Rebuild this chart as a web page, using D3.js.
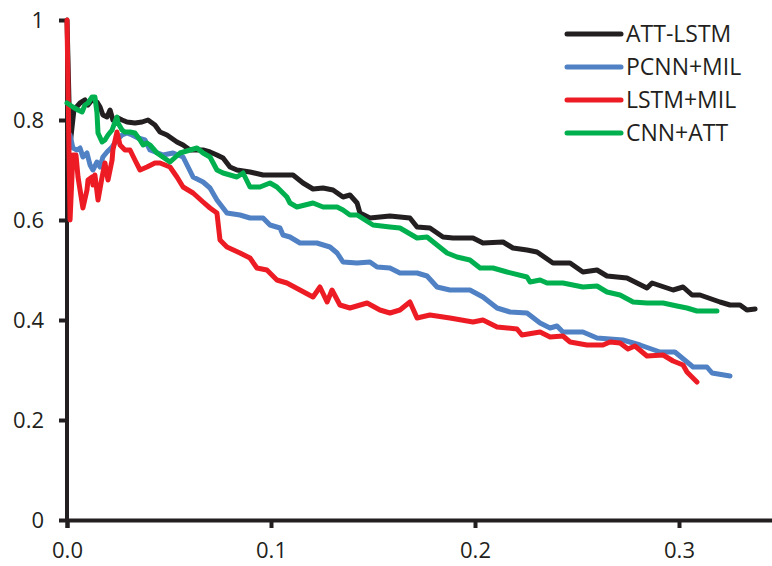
<!DOCTYPE html>
<html>
<head>
<meta charset="utf-8">
<script src="https://cdn.jsdelivr.net/npm/d3@7"></script>
<style>
  body { margin: 0; background: #fff; }
  text { font-family: "Open Sans", sans-serif; fill: #231f20; }
</style>
</head>
<body>
<svg id="svg"></svg>
<script>
const seriesNames = ["ATT-LSTM", "PCNN+MIL", "LSTM+MIL", "CNN+ATT"]
const seriesColors = ["#231f20", "#4f81c4", "#ed1c24", "#00b04f"]

// [recall, precision]
const attLstm = [[0,1.0],[0.0015,0.75],[0.0034,0.82],[0.0064,0.834],[0.0088,0.84],[0.0103,0.83],[0.0123,0.84],[0.0147,0.836],[0.0162,0.826],[0.0176,0.81],[0.0196,0.806],[0.0211,0.82],[0.0225,0.80],[0.025,0.804],[0.027,0.80],[0.0294,0.796],[0.0333,0.794],[0.0368,0.796],[0.0397,0.80],[0.0431,0.79],[0.0456,0.776],[0.049,0.77],[0.0539,0.756],[0.0569,0.75],[0.0603,0.74],[0.0667,0.74],[0.0701,0.736],[0.0735,0.73],[0.0765,0.724],[0.0799,0.706],[0.0833,0.70],[0.0897,0.696],[0.0961,0.69],[0.103,0.69],[0.1108,0.69],[0.1157,0.674],[0.1206,0.662],[0.1255,0.664],[0.1304,0.66],[0.1353,0.646],[0.1387,0.65],[0.1422,0.634],[0.1436,0.614],[0.1485,0.604],[0.1583,0.608],[0.1681,0.604],[0.1716,0.586],[0.1779,0.584],[0.1843,0.566],[0.1892,0.564],[0.199,0.564],[0.2039,0.554],[0.2137,0.556],[0.2186,0.544],[0.2255,0.54],[0.2304,0.536],[0.2382,0.514],[0.2466,0.514],[0.2529,0.496],[0.2598,0.50],[0.2647,0.488],[0.2745,0.484],[0.2843,0.464],[0.2868,0.474],[0.2971,0.46],[0.302,0.466],[0.3064,0.45],[0.3103,0.45],[0.3201,0.436],[0.325,0.43],[0.3299,0.43],[0.3333,0.42],[0.3373,0.422]]

const pcnnMil = [[0.0015,0.77],[0.0029,0.744],[0.0049,0.74],[0.0064,0.744],[0.0078,0.726],[0.0098,0.734],[0.0113,0.71],[0.0127,0.70],[0.0147,0.716],[0.0162,0.706],[0.0176,0.726],[0.0196,0.736],[0.0221,0.746],[0.0245,0.76],[0.027,0.77],[0.0294,0.774],[0.0319,0.77],[0.0348,0.764],[0.0382,0.76],[0.0407,0.74],[0.0471,0.73],[0.052,0.734],[0.0569,0.726],[0.0618,0.686],[0.0667,0.676],[0.0701,0.664],[0.0735,0.64],[0.0784,0.614],[0.0848,0.61],[0.0897,0.604],[0.0961,0.604],[0.0995,0.59],[0.1044,0.584],[0.1059,0.57],[0.1093,0.566],[0.1142,0.554],[0.1225,0.554],[0.1289,0.546],[0.1324,0.534],[0.1353,0.516],[0.1422,0.514],[0.1485,0.516],[0.152,0.506],[0.1583,0.504],[0.1632,0.494],[0.1716,0.494],[0.1765,0.488],[0.1814,0.466],[0.1877,0.46],[0.1975,0.46],[0.2039,0.446],[0.2108,0.424],[0.2172,0.416],[0.2255,0.414],[0.2319,0.394],[0.2368,0.384],[0.2402,0.388],[0.2431,0.376],[0.2529,0.376],[0.2598,0.364],[0.2725,0.36],[0.2809,0.35],[0.2907,0.336],[0.298,0.336],[0.3069,0.306],[0.3137,0.306],[0.3162,0.294],[0.325,0.288]]

const lstmMil = [[0,1.0],[0.0015,0.6],[0.0029,0.73],[0.0044,0.73],[0.0054,0.686],[0.0078,0.624],[0.0098,0.66],[0.0103,0.68],[0.0123,0.686],[0.0127,0.67],[0.0137,0.69],[0.0152,0.64],[0.0172,0.686],[0.0186,0.714],[0.0201,0.68],[0.0221,0.72],[0.0225,0.74],[0.0245,0.776],[0.026,0.75],[0.0284,0.74],[0.0309,0.74],[0.0333,0.72],[0.0358,0.70],[0.0392,0.706],[0.0431,0.714],[0.0456,0.714],[0.0505,0.706],[0.0539,0.686],[0.0569,0.666],[0.0618,0.654],[0.0667,0.636],[0.0701,0.624],[0.0735,0.614],[0.075,0.56],[0.0784,0.546],[0.0848,0.534],[0.0897,0.524],[0.0931,0.504],[0.098,0.50],[0.1029,0.48],[0.1078,0.474],[0.1142,0.46],[0.1206,0.446],[0.124,0.466],[0.1275,0.436],[0.1299,0.46],[0.1338,0.43],[0.1387,0.424],[0.1471,0.434],[0.1534,0.42],[0.1583,0.414],[0.1632,0.42],[0.1681,0.436],[0.1716,0.404],[0.1779,0.41],[0.1877,0.404],[0.199,0.396],[0.2039,0.40],[0.2108,0.386],[0.2206,0.382],[0.223,0.37],[0.2319,0.376],[0.2368,0.366],[0.2431,0.368],[0.2466,0.356],[0.2549,0.35],[0.2627,0.35],[0.2662,0.356],[0.2711,0.354],[0.275,0.342],[0.2784,0.348],[0.2843,0.328],[0.2922,0.33],[0.2971,0.318],[0.302,0.31],[0.3039,0.296],[0.3088,0.276]]

const cnnAtt = [[0,0.834],[0.0029,0.826],[0.0054,0.82],[0.0074,0.816],[0.0088,0.83],[0.0103,0.834],[0.0123,0.846],[0.0137,0.846],[0.0147,0.814],[0.0152,0.774],[0.0172,0.756],[0.0186,0.76],[0.0201,0.77],[0.0221,0.78],[0.0235,0.796],[0.0245,0.806],[0.025,0.794],[0.027,0.78],[0.0284,0.776],[0.0309,0.776],[0.0333,0.774],[0.0358,0.76],[0.0373,0.75],[0.0392,0.754],[0.0407,0.75],[0.0441,0.734],[0.0505,0.716],[0.0554,0.734],[0.0637,0.744],[0.0667,0.734],[0.0701,0.726],[0.0735,0.70],[0.0765,0.694],[0.0833,0.686],[0.0863,0.694],[0.0897,0.666],[0.0946,0.666],[0.0995,0.674],[0.1029,0.666],[0.1078,0.646],[0.1093,0.634],[0.1127,0.626],[0.1206,0.634],[0.1255,0.626],[0.1324,0.626],[0.1353,0.62],[0.1387,0.61],[0.1422,0.61],[0.15,0.59],[0.1583,0.586],[0.1632,0.584],[0.1716,0.564],[0.1765,0.566],[0.1814,0.55],[0.1863,0.534],[0.1912,0.526],[0.1975,0.52],[0.2025,0.504],[0.2088,0.504],[0.2157,0.496],[0.2255,0.486],[0.227,0.476],[0.2319,0.48],[0.2353,0.474],[0.2431,0.474],[0.2529,0.466],[0.2598,0.468],[0.2647,0.456],[0.2711,0.45],[0.2775,0.436],[0.2843,0.434],[0.2922,0.434],[0.299,0.428],[0.3039,0.424],[0.3088,0.418],[0.3186,0.418]]

const xTicks = [0, 0.1, 0.2, 0.3]
const yTicks = [0, 0.2, 0.4, 0.6, 0.8, 1]

const allSeries = [attLstm, pcnnMil, lstmMil, cnnAtt]

const W = 772, H = 566
const svg = d3.select("#svg").attr("width", W).attr("height", H)

const x = d3.scaleLinear().domain([0, 0.35]).range([67, 781])
const y = d3.scaleLinear().domain([0, 1]).range([520, 20])

// axes
const xAxis = svg.append("g")
  .attr("transform", `translate(0,${y(0)})`)
  .call(d3.axisBottom(x).tickValues(xTicks).tickFormat(d3.format(".1f")).tickSize(8).tickPadding(14))
const yAxis = svg.append("g")
  .attr("transform", `translate(${x(0)},0)`)
  .call(d3.axisLeft(y).tickValues(yTicks).tickFormat(d => d === 0 || d === 1 ? d : d.toFixed(1)).tickSize(8).tickPadding(15))

for (const ax of [xAxis, yAxis]) {
  ax.select(".domain").attr("stroke", "#231f20").attr("stroke-width", 4)
  ax.selectAll(".tick line").attr("stroke", "#231f20").attr("stroke-width", 4)
  ax.selectAll(".tick text").attr("font-size", 22).attr("fill", "#231f20")
    .attr("font-family", "Open Sans, sans-serif")
}
yAxis.select(".domain").attr("d", `M0,${y(1)}V${y(0) + 2}`)
yAxis.selectAll(".tick line").attr("x1", -1)

// lines
const line = d3.line().x(d => x(d[0])).y(d => y(d[1]))

svg.append("g")
  .selectAll("path")
  .data(allSeries)
  .enter()
  .append("path")
  .attr("d", line)
  .attr("fill", "none")
  .attr("stroke", (d, i) => seriesColors[i])
  .attr("stroke-width", 5)
  .attr("stroke-linejoin", "round")
  .attr("stroke-linecap", "round")

// legend
const legend = svg.append("g").attr("transform", "translate(567,34)")
const items = legend.selectAll("g")
  .data(seriesNames)
  .enter()
  .append("g")
  .attr("transform", (d, i) => `translate(0,${i * 33})`)
items.append("line")
  .attr("x1", 0).attr("x2", 54).attr("y1", 0).attr("y2", 0)
  .attr("stroke", (d, i) => seriesColors[i])
  .attr("stroke-width", 5)
  .attr("stroke-linecap", "round")
items.append("text")
  .attr("x", 59)
  .attr("y", 0)
  .attr("dy", "0.35em")
  .attr("font-size", 23)
  .text(d => d)
</script>
</body>
</html>
